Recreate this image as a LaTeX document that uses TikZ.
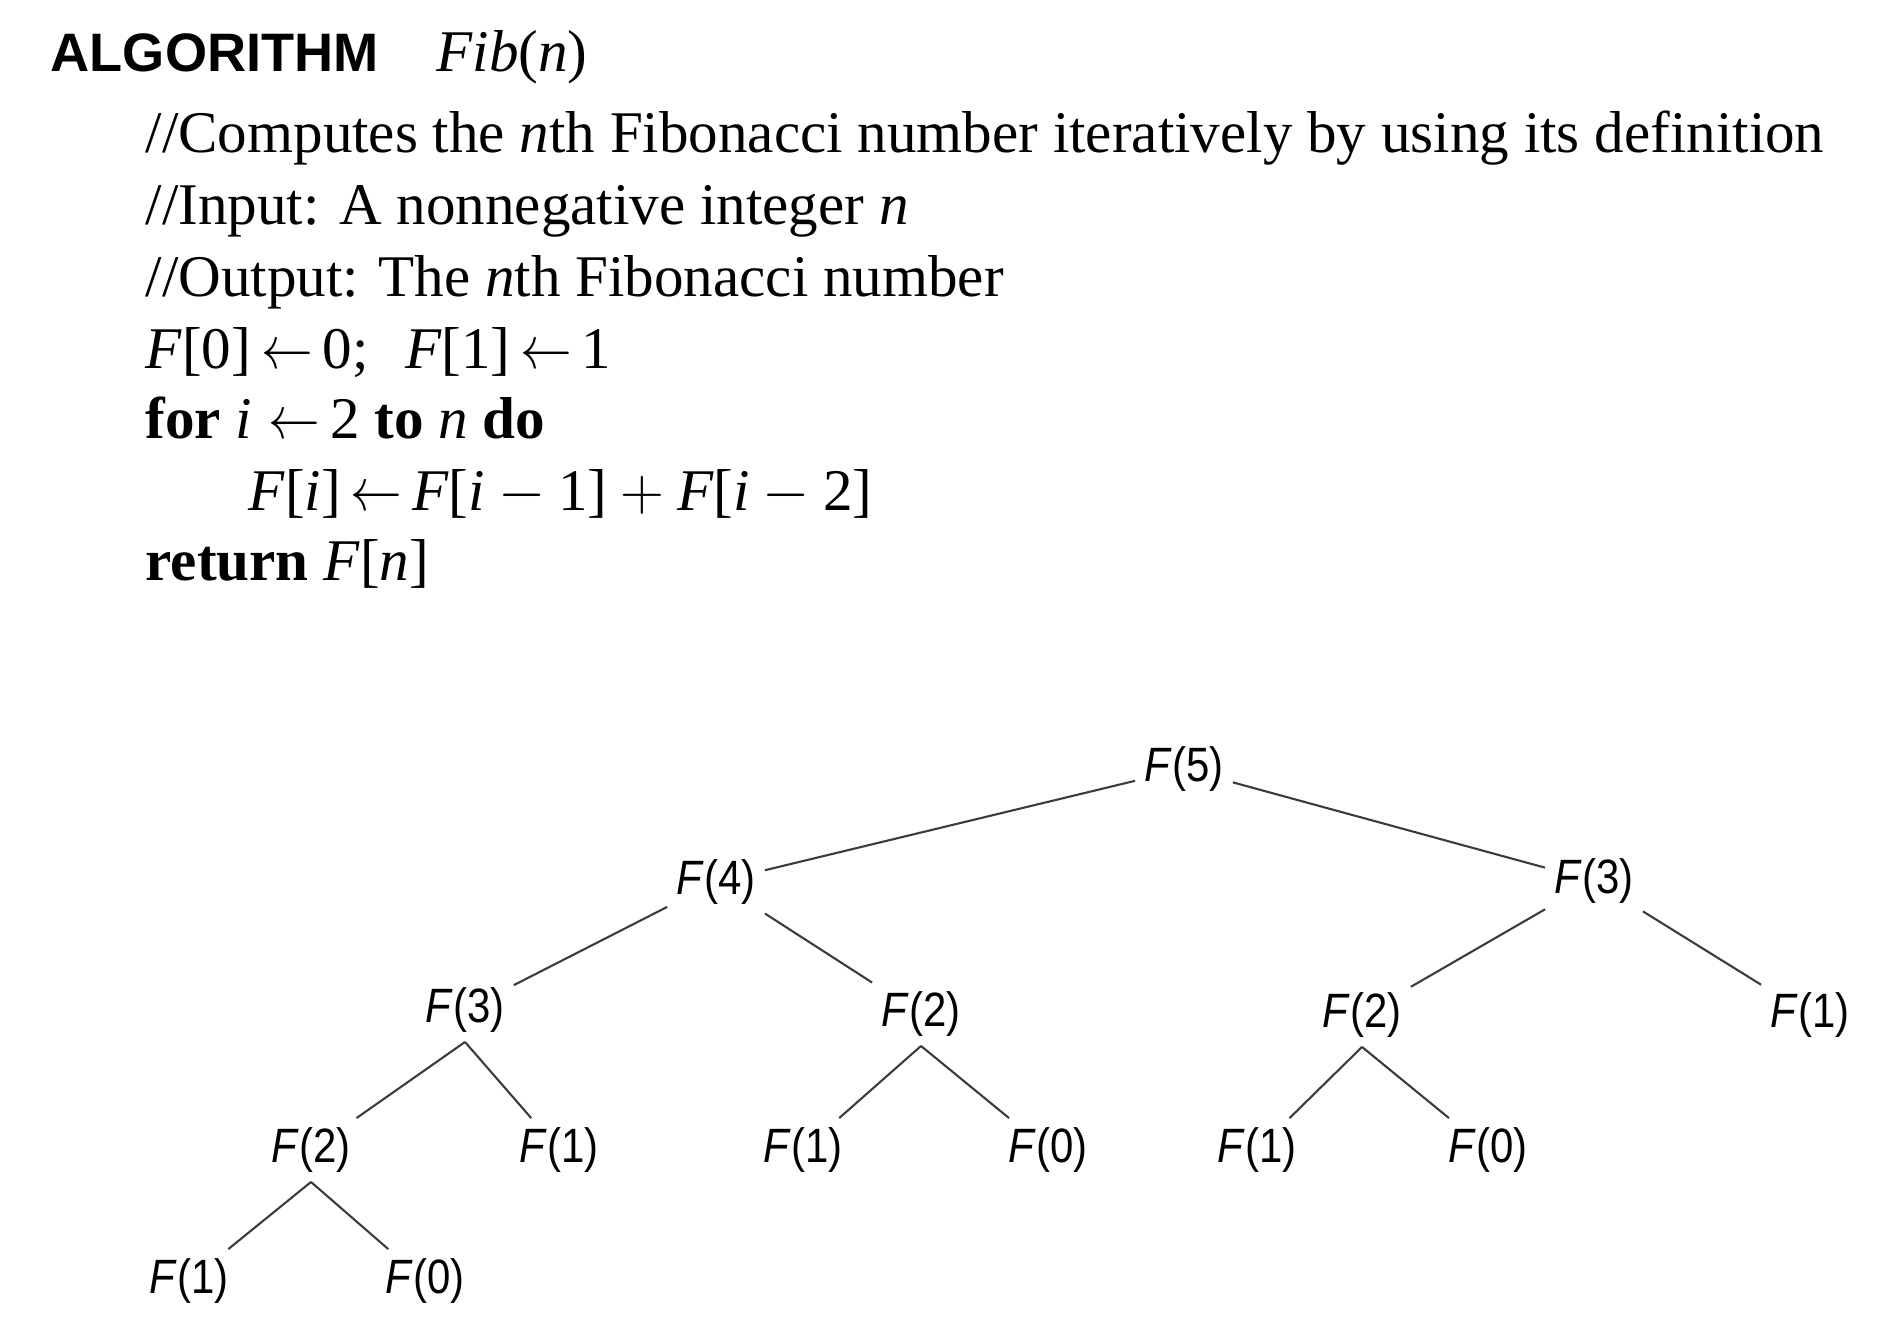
\documentclass[tikz,border=0pt]{standalone}
\usepackage{fontspec}
\setmainfont{Liberation Serif}
\setsansfont{Liberation Sans}
\newfontfamily\treefont{Liberation Sans}[FakeStretch=0.87]
\usetikzlibrary{positioning}
\definecolor{linkgray}{HTML}{3C3C3C}
\definecolor{ink}{HTML}{000000}
\newcommand{\fcall}[1]{\textit{F}(#1)}
\newcommand{\getsarrow}{\scalebox{0.85}[1]{$\leftarrow$}}
\newcommand{\opsp}{\hspace{0.22em}}

\begin{document}
\begin{tikzpicture}[x=0.01cm, y=-0.01cm,
    codeline/.style={anchor=base west, inner sep=0pt, text=ink, font=\fontsize{16.8}{20}\selectfont},
    callnode/.style={inner sep=2.5pt, text=ink, font=\treefont\fontsize{13.7}{16}\selectfont},
    link/.style={draw=linkgray, line width=0.6pt}]
  \useasboundingbox (0,0) rectangle (1882,1329);

  % Header
  \node[anchor=base west, inner sep=0pt, font=\sffamily\bfseries\fontsize{15.4}{18}\selectfont] (head) at (50,71) {ALGORITHM};
  \node[codeline] (name) at (436,71) {\textit{Fib}(\textit{n})};

  % Pseudocode
  \node[codeline] (c1) at (145,152) {//Computes the \textit{n}th Fibonacci number iteratively by using its definition};
  \node[codeline] (c2) at (145,224) {//Input: A nonnegative integer \textit{n}};
  \node[codeline] (c3) at (145,296) {//Output: The \textit{n}th Fibonacci number};
  \node[codeline] (c4) at (145,368) {\textit{F}[0]\,\getsarrow\,0;\hspace{0.62em}\textit{F}[1]\,\getsarrow\,1};
  \node[codeline] (c5) at (145,438) {\textbf{for} \textit{i}\;\getsarrow\,2 \textbf{to} \textit{n} \textbf{do}};
  \node[codeline] (c6) at (248,510) {\textit{F}[\textit{i}]\,\getsarrow\,\textit{F}[\textit{i}\opsp$-$\opsp1]\opsp$+$\opsp\textit{F}[\textit{i}\opsp$-$\opsp2]};
  \node[codeline] (c7) at (145,580) {\textbf{return} \textit{F}[\textit{n}]};

  % Recursion tree, one node per call
  \foreach \name/\x/\y/\k in {
    f5/1184/769/5,
    f4/716/882/4, f3b/1594/881/3,
    f3a/465/1010/3, f2a/921/1014/2, f2c/1362/1015/2, f1e/1810/1015/1,
    f2b/311/1150/2, f1b/559/1150/1, f1c/803/1150/1, f0b/1048/1150/0,
    f1d/1257/1150/1, f0c/1488/1150/0,
    f1a/189/1281/1, f0a/425/1281/0} {
    \node[callnode] (\name) at (\x,\y) {\fcall{\k}};
  }

  % Upper calls: lines run between the node borders
  \foreach \p/\c in {f5/f4, f5/f3b, f4/f3a, f4/f2a, f3b/f2c, f3b/f1e} {
    \draw[link] (\p) -- (\c);
  }

  % Lower calls: both children hang from one point under the parent
  \foreach \p/\c in {f3a/f2b, f3a/f1b, f2a/f1c, f2a/f0b, f2c/f1d, f2c/f0c, f2b/f1a, f2b/f0a} {
    \draw[link] (\p.south) -- (\c);
  }
\end{tikzpicture}
\end{document}
